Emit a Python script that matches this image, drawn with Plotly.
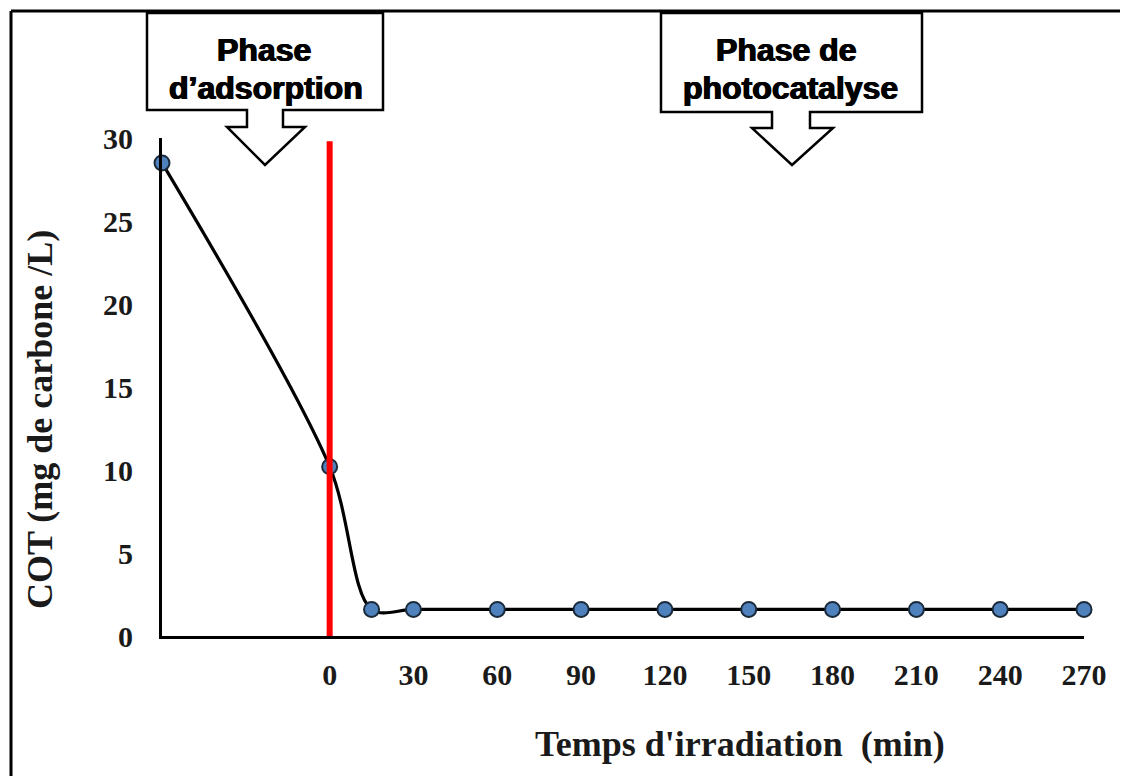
import plotly.graph_objects as go

# ---- data ----
time_min = [-60, 0, 15, 30, 60, 90, 120, 150, 180, 210, 240, 270]
cot_mg_l = [28.5, 10.2, 1.6, 1.6, 1.6, 1.6, 1.6, 1.6, 1.6, 1.6, 1.6, 1.6]
x_tick_vals = [0, 30, 60, 90, 120, 150, 180, 210, 240, 270]
x_tick_text = ["0", "30", "60", "90", "120", "150", "180", "210", "240", "270"]
y_tick_vals = [0, 5, 10, 15, 20, 25, 30]
y_tick_text = ["0", "5", "10", "15", "20", "25", "30"]
phase_switch_x = [0, 0]
phase_switch_y = [0, 29.8]

OFF = 8  # page body margin
W, H = 1128 - OFF, 776 - OFF
L, R, T, B = 162 - OFF, 44, 138 - OFF, 140
PW, PH = W - L - R, H - T - B


def px(x):
    return (x - OFF - L) / PW


def py(y):
    return (H - B - (y - OFF)) / PH


def path(points):
    return "M " + " L ".join(f"{px(a):.5f},{py(b):.5f}" for a, b in points) + " Z"


fig = go.Figure()
fig.add_trace(go.Scatter(
    x=time_min, y=cot_mg_l, mode="lines+markers",
    line=dict(color="black", width=3.2, shape="spline", smoothing=0.9),
    marker=dict(size=15, color="#4F81BD", line=dict(color="#1b2a3a", width=2)),
    cliponaxis=False, showlegend=False,
))
fig.add_trace(go.Scatter(
    x=phase_switch_x, y=phase_switch_y, mode="lines",
    line=dict(color="#FF0000", width=6), showlegend=False, cliponaxis=False,
))

tick_font = dict(family="Liberation Serif", size=30, color="#1a1a1a", weight="bold")

fig.update_xaxes(
    range=[-60, 270], tickvals=x_tick_vals, ticktext=x_tick_text,
    showline=True, linecolor="black", linewidth=3, showgrid=False, zeroline=False,
    ticks="", tickfont=tick_font, ticklabelstandoff=10,
)
fig.update_yaxes(
    range=[0, 30], tickvals=y_tick_vals, ticktext=y_tick_text,
    showline=True, linecolor="black", linewidth=3, showgrid=False, zeroline=False,
    ticks="", tickfont=tick_font, ticklabelstandoff=20,
)

shapes = []
# outer frame (left and top edges)
shapes.append(dict(type="line", xref="paper", yref="paper",
                   x0=px(11), y0=py(800), x1=px(11), y1=py(11),
                   line=dict(color="black", width=3)))
shapes.append(dict(type="line", xref="paper", yref="paper",
                   x0=px(11), y0=py(11), x1=px(1140), y1=py(11),
                   line=dict(color="black", width=3)))
# callouts
callout1 = [(147, 13), (383, 13), (383, 110), (283, 110), (283, 127), (305, 127),
            (265, 165), (227, 127), (247, 127), (247, 110), (147, 110)]
callout2 = [(661, 13), (922, 13), (922, 112), (810, 112), (810, 128), (833, 128),
            (792, 165), (752, 128), (772, 128), (772, 112), (661, 112)]
for pts in (callout1, callout2):
    shapes.append(dict(type="path", xref="paper", yref="paper", path=path(pts),
                       fillcolor="white", line=dict(color="black", width=2.5)))
fig.update_layout(shapes=shapes)

box_font = dict(family="Liberation Sans", size=32, color="black", weight="bold",
                shadow="0.7px 0 0 black, -0.7px 0 0 black")
ann = []
for text, x, y in [("Phase", 264, 50), ("d’adsorption", 266, 88),
                   ("Phase de", 786, 50), ("photocatalyse", 790, 88)]:
    ann.append(dict(text=text, x=px(x), y=py(y), xref="paper", yref="paper",
                    showarrow=False, xanchor="center", yanchor="middle", font=box_font))

title_font = dict(family="Liberation Serif", size=36, color="#1a1a1a", weight="bold")
ann.append(dict(text="Temps d'irradiation  (min)", x=px(740), y=py(744),
                xref="paper", yref="paper", showarrow=False,
                xanchor="center", yanchor="middle", font=title_font))
ann.append(dict(text="COT (mg de carbone /L)", x=px(40), y=py(420),
                xref="paper", yref="paper", showarrow=False, textangle=-90,
                xanchor="center", yanchor="middle", font=title_font))
fig.update_layout(annotations=ann)

fig.update_layout(
    width=W, height=H, autosize=False,
    margin=dict(l=L, r=R, t=T, b=B, pad=0),
    paper_bgcolor="white", plot_bgcolor="white",
    showlegend=False,
)

fig.write_html("out.html")
